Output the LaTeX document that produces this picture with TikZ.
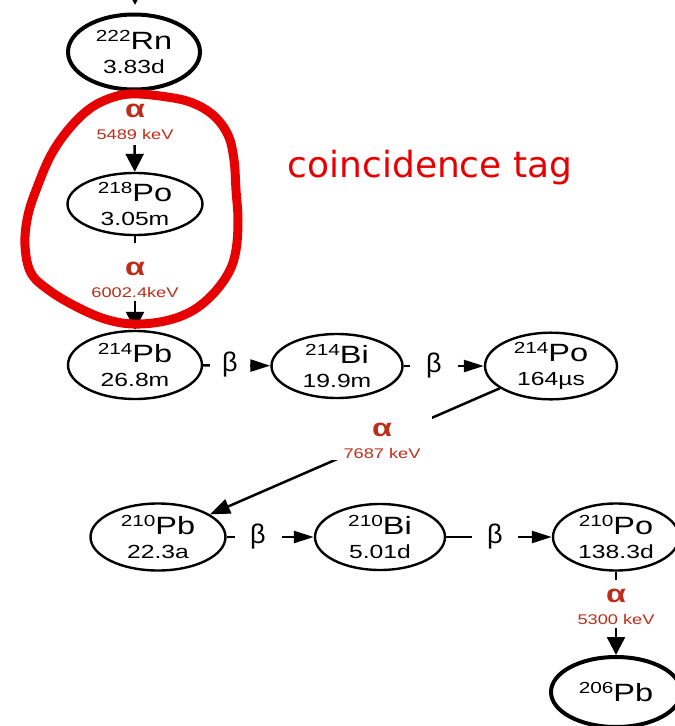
\documentclass[tikz,border=0pt]{standalone}
\usepackage{fontspec}
\setmainfont{Liberation Sans}
\newfontfamily\nucfont[FakeStretch=1.3]{Liberation Sans}
\newfontfamily\tagfont{DejaVu Sans}
\usetikzlibrary{shapes.geometric,arrows.meta}
\definecolor{decayred}{RGB}{190,45,25}
\definecolor{tagred}{RGB}{230,0,0}
% isotope: mass number as superscript, then element symbol
\newcommand\iso[2]{{\fontsize{16}{16}\selectfont\raisebox{8pt}{#1}}{\fontsize{25}{25}\selectfont #2}}
% alpha label: #1 space above first baseline, #2 space below second baseline, #3 energy
\newcommand\alphalabel[3]{{\fontsize{25}{22}\selectfont\bfseries\rule{0pt}{#1pt}α}\\{#3\rule[-#2pt]{0pt}{#2pt}}}
\tikzset{
  nuc/.style={ellipse, draw, line width=2.4pt, inner sep=0pt, align=center,
    font=\nucfont\fontsize{19}{24}\selectfont},
  nucthick/.style={nuc, line width=4pt},
  edge/.style={line width=2.5pt},
  vtip/.style={-{Triangle[length=18pt,width=18pt]}},
  htip/.style={-{Triangle[length=20pt,width=12pt]}},
  dtip/.style={-{Triangle[length=20pt,width=15pt]}},
  alab/.style={fill=white, inner sep=0pt, align=center, anchor=north,
    text=decayred, font=\nucfont\fontsize{14}{22}\selectfont},
  blab/.style={fill=white, inner sep=0pt, minimum height=30pt,
    font=\fontsize{27}{27}\selectfont}
}
\begin{document}
\begin{tikzpicture}[x=1pt,y=-1pt]
\useasboundingbox (0,0) rectangle (675,726);

% nuclides
\node[nucthick, minimum width=132pt, minimum height=75pt] (rn222) at (134,52) {\iso{222}{Rn}\\3.83d};
\node[nuc, minimum width=135pt, minimum height=62pt] (po218) at (135,204) {\iso{218}{Po}\\3.05m};
\node[nuc, minimum width=134pt, minimum height=68pt] (pb214) at (135,365) {\iso{214}{Pb}\\26.8m};
\node[nuc, minimum width=131pt, minimum height=64pt] (bi214) at (337,366) {\iso{214}{Bi}\\19.9m};
\node[nuc, minimum width=132pt, minimum height=65pt] (po214) at (551,366) {\iso{214}{Po}\\164µs};
\node[nuc, minimum width=135pt, minimum height=67pt] (pb210) at (158,537) {\iso{210}{Pb}\\22.3a};
\node[nuc, minimum width=130pt, minimum height=66pt] (bi210) at (380,537) {\iso{210}{Bi}\\5.01d};
\node[nuc, minimum width=126pt, minimum height=67pt] (po210) at (616,537) {\iso{210}{Po}\\138.3d};
\node[nucthick, minimum width=130pt, minimum height=70pt] (pb206) at (616,692) {\iso{206}{Pb}};

% incoming chain from above
\coordinate (parent) at (135,-30);
\coordinate (entry) at (135,5);
\draw[edge, vtip] (parent) -- (entry);

% decays
\draw[edge, vtip] (rn222) -- (po218);
\draw[edge, vtip] (po218) -- (pb214);
\draw[edge, htip] (pb214) -- (bi214);
\draw[edge, htip] (bi214) -- (po214);
\draw[edge, dtip] (po214) -- (pb210);
\draw[edge, htip] (pb210) -- (bi210);
\draw[edge, htip] (bi210) -- (po210);
\draw[edge, vtip] (po210) -- (pb206);

% decay labels
\node[alab, minimum width=80pt] (a1) at (135,97) {\alphalabel{20}{6}{5489 keV}};
\node[alab, minimum width=86pt] (a2) at (135,243) {\alphalabel{32}{4}{6002.4keV}};
\node[alab, minimum width=100pt] (a3) at (382,416) {\alphalabel{20}{2}{7687 keV}};
\node[alab, minimum width=86pt] (a4) at (616,580) {\alphalabel{22}{4}{5300 keV}};
\node[blab, minimum width=40pt] (b1) at (230,365) {β};
\node[blab, minimum width=48pt] (b2) at (434,366) {β};
\node[blab, minimum width=47pt] (b3) at (258,537) {β};
\node[blab, minimum width=46pt] (b4) at (495,537) {β};

% hand-drawn loop around the Rn-Po-Pb alpha pair
\draw[tagred, line width=9pt, line join=round]
  plot[smooth cycle, tension=0.6] coordinates {
    (130,94) (160,96) (190,102) (213,115) (228,135) (234,160) (236,190)
    (238,220) (236,250) (229,272) (213,294) (192,311) (165,321) (133,324)
    (105,319) (77,307) (50,291) (31,273) (25,245) (28,215) (38,185)
    (51,155) (68,130) (88,110) (108,99)};
\node[anchor=base, text=tagred, font=\tagfont\fontsize{36}{36}\selectfont, inner sep=0pt]
  (tag) at (430,177) {coincidence tag};
\end{tikzpicture}
\end{document}
